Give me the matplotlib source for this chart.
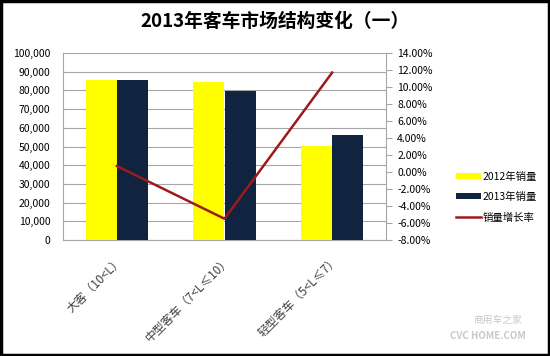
import matplotlib
matplotlib.use('Agg')
import matplotlib.pyplot as plt
import numpy as np
from matplotlib.ticker import FuncFormatter, MultipleLocator

plt.rcParams['font.family'] = ['Noto Sans CJK SC', 'DejaVu Sans']

categories = ['大客（10<L）', '中型客车（7<L≤10）', '轻型客车（5<L≤7）']
sales_2012 = [85500, 84500, 50300]
sales_2013 = [85800, 79800, 56000]
growth = [0.7, -5.5, 11.7]

fig = plt.figure(figsize=(5.5, 3.56), dpi=100)
ax = fig.add_axes([63/550, 1-240/356, (386-63)/550, (240-53)/356])

x = np.arange(len(categories))
w = 0.29
ax.bar(x - w/2, sales_2012, w, color='#FFFF00', label='2012年销量', zorder=3)
ax.bar(x + w/2, sales_2013, w, color='#10243F', label='2013年销量', zorder=3)

ax.set_xlim(-0.5, 2.5)
ax.set_ylim(0, 100000)
ax.yaxis.set_major_locator(MultipleLocator(10000))
ax.yaxis.set_major_formatter(FuncFormatter(lambda v, p: f'{int(v):,}'))
ax.grid(axis='y', color='#A6A6A6', linewidth=0.8, zorder=0)
ax.tick_params(axis='y', length=0, labelsize=7.5, pad=9)
ax.tick_params(axis='x', length=0, labelsize=8.5, pad=10)
ax.set_xticks(x)
ax.set_xticklabels(categories, rotation=45, ha='right', rotation_mode='anchor', color='#404040')
for s in ['top', 'right']:
    ax.spines[s].set_visible(False)
for s in ['left', 'bottom']:
    ax.spines[s].set_color('#A6A6A6')

ax2 = ax.twinx()
ax2.plot(x, growth, color='#9E1A1A', linewidth=1.8, label='销量增长率', zorder=4)
ax2.set_ylim(-8, 14)
ax2.yaxis.set_major_locator(MultipleLocator(2))
ax2.yaxis.set_major_formatter(FuncFormatter(lambda v, p: f'{v:.2f}%'))
ax2.tick_params(axis='y', labelsize=7.5, length=4, color='#A6A6A6', pad=4)
for s in ['top', 'left', 'bottom']:
    ax2.spines[s].set_visible(False)
ax2.spines['right'].set_color('#A6A6A6')

h1, l1 = ax.get_legend_handles_labels()
h2, l2 = ax2.get_legend_handles_labels()
fig.legend(h1 + h2, l1 + l2, loc='center left', bbox_to_anchor=(447/550, 1-197/356),
           frameon=False, fontsize=7.5, handlelength=2.4, handleheight=0.5,
           handletextpad=0.1, labelspacing=1.0)

fig.text(0.5, 1-21/356, '2013年客车市场结构变化（一）', ha='center', va='center',
         fontsize=13.5, fontweight='bold')

fig.text(498/550, 1-320/356, '商用车之家', ha='center', va='center', fontsize=7,
         color='#C8C8C8')
fig.text(488/550, 1-336/356, 'CVC HOME.COM', ha='center', va='center', fontsize=7,
         color='#C8C8C8', fontweight='bold')

fig.patches.append(plt.Rectangle((0.002, 0.003), 0.996, 0.994, transform=fig.transFigure,
                                 fill=False, edgecolor='black', linewidth=2.5))

plt.savefig('out.png', dpi=100)
